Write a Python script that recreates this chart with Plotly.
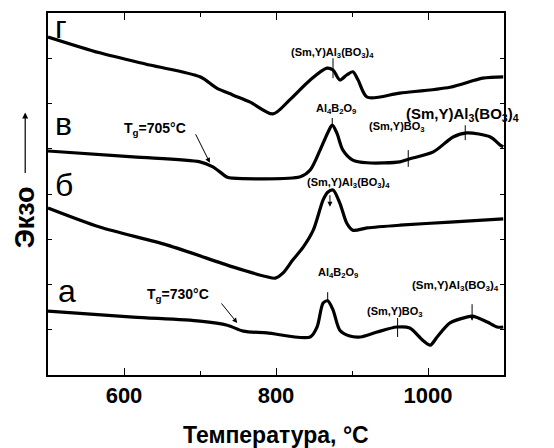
import plotly.graph_objects as go

# DTA curves (temperature in °C, signal in arbitrary stacked units)
t_g = [500, 568, 634, 700, 722, 743, 766, 796, 818, 845, 867, 875, 884, 893, 901, 908, 920, 963, 1029, 1072, 1099]
y_g = [7.47, 7.12, 6.85, 6.59, 6.34, 6.19, 6.03, 5.77, 6.08, 6.52, 6.78, 6.74, 6.52, 6.63, 6.70, 6.52, 6.14, 6.23, 6.36, 6.56, 6.59]

t_v = [500, 612, 700, 717, 736, 743, 832, 845, 858, 868, 874, 880, 888, 901, 920, 963, 974, 1007, 1033, 1051, 1082, 1095, 1099]
y_v = [4.95, 4.82, 4.71, 4.60, 4.37, 4.35, 4.38, 4.53, 4.97, 5.35, 5.52, 5.35, 4.97, 4.75, 4.69, 4.71, 4.77, 4.93, 5.26, 5.35, 5.26, 5.08, 5.04]

t_b = [500, 568, 657, 743, 788, 799, 809, 822, 836, 849, 862, 868, 875, 884, 893, 901, 920, 963, 1029, 1099]
y_b = [3.69, 3.27, 2.87, 2.39, 2.17, 2.14, 2.25, 2.54, 2.83, 3.20, 3.87, 4.04, 4.09, 3.80, 3.36, 3.20, 3.25, 3.31, 3.38, 3.45]

t_a = [500, 612, 700, 736, 757, 788, 845, 854, 862, 868, 875, 884, 897, 911, 933, 959, 976, 993, 1003, 1012, 1029, 1051, 1059, 1078, 1091, 1099]
y_a = [1.41, 1.28, 1.19, 1.10, 0.97, 0.93, 0.84, 1.06, 1.59, 1.64, 1.44, 0.99, 0.86, 0.84, 0.95, 1.06, 1.04, 0.77, 0.66, 0.84, 1.15, 1.28, 1.30, 1.17, 1.06, 1.06]

curves = [(t_g, y_g), (t_v, y_v), (t_b, y_b), (t_a, y_a)]

x_ticks = [600, 800, 1000]
x_minor = [700, 900]

FONT = "Liberation Sans, Arial, sans-serif"

fig = go.Figure()
for t, y in curves:
    fig.add_trace(go.Scatter(x=t, y=y, mode="lines",
                             line=dict(color="black", width=3.2, shape="spline", smoothing=0.8),
                             showlegend=False, hoverinfo="skip"))

# curve letters
for txt, t, y in [("г", 507, 7.7), ("в", 507, 5.55), ("б", 507, 4.2), ("а", 510, 1.85)]:
    fig.add_annotation(x=t, y=y, text=txt, showarrow=False, xanchor="left", yanchor="middle",
                       font=dict(family=FONT, size=32, color="black"))

# phase labels (text, x, y, size)
labels = [
    ("(Sm,Y)Al<sub>3</sub>(BO<sub>3</sub>)<sub>4</sub>", 874, 7.12, 11),
    ("Al<sub>4</sub>B<sub>2</sub>O<sub>9</sub>", 879, 5.88, 11),
    ("(Sm,Y)BO<sub>3</sub>", 959, 5.47, 11),
    ("(Sm,Y)Al<sub>3</sub>(BO<sub>3</sub>)<sub>4</sub>", 1045, 5.75, 15),
    ("(Sm,Y)Al<sub>3</sub>(BO<sub>3</sub>)<sub>4</sub>", 895, 4.24, 11),
    ("Al<sub>4</sub>B<sub>2</sub>O<sub>9</sub>", 882, 2.25, 11),
    ("(Sm,Y)BO<sub>3</sub>", 957, 1.39, 11),
    ("(Sm,Y)Al<sub>3</sub>(BO<sub>3</sub>)<sub>4</sub>", 1036, 1.97, 11.5),
    ("T<sub>g</sub>=705°C", 641, 5.43, 14),
    ("T<sub>g</sub>=730°C", 671, 1.77, 14),
]
for txt, t, y, s in labels:
    fig.add_annotation(x=t, y=y, text=txt, showarrow=False, xanchor="center", yanchor="middle",
                       font=dict(family=FONT, size=s, color="black", weight="bold"))

# short marker lines at the crystallization peaks (temperature, y0, y1)
marks = [(875, 6.56, 7.0), (874, 5.52, 5.68), (974, 4.6, 4.97), (1049, 5.19, 5.52),
         (868, 1.61, 1.83), (960, 0.84, 1.26)]
for t, y0, y1 in marks:
    fig.add_shape(type="line", x0=t, x1=t, y0=y0, y1=y1, line=dict(color="black", width=1))

# arrows (tip temperature, tip y, tail offset px)
arrows = [(871, 3.72, 0, -13), (1058, 1.2, 0, -18), (713, 4.69, -15, -30), (749, 1.15, -17, -21)]
for t, y, ax, ay in arrows:
    fig.add_annotation(x=t, y=y, ax=ax, ay=ay, text="", showarrow=True, arrowhead=2,
                       arrowsize=1, arrowwidth=1, arrowcolor="black")

# "Экзо" title with its direction arrow, in paper coordinates
fig.add_annotation(xref="paper", yref="paper", x=-0.05, y=0.725, ax=0, ay=62,
                   text="", showarrow=True, arrowhead=2, arrowsize=1, arrowwidth=1.2, arrowcolor="black")
fig.add_annotation(xref="paper", yref="paper", x=-0.05, y=0.436, text="Экзо", textangle=-90,
                   showarrow=False, xanchor="center", yanchor="middle",
                   font=dict(family=FONT, size=27, color="black", weight="bold"))
fig.add_annotation(xref="paper", yref="paper", x=0.5, y=-0.166, text="Температура, °C",
                   showarrow=False, xanchor="center", yanchor="middle",
                   font=dict(family=FONT, size=23, color="black", weight="bold"))

axis_common = dict(showgrid=False, zeroline=False, showline=True, linecolor="black", linewidth=1.5,
                   mirror="allticks", ticks="inside", tickcolor="black")
fig.update_xaxes(range=[500, 1100], tickvals=x_ticks, ticklen=7, tickwidth=1,
                 tickfont=dict(family=FONT, size=22, color="black", weight="bold"),
                 minor=dict(tickvals=x_minor, ticks="inside", ticklen=4, tickcolor="black"),
                 **axis_common)
fig.update_yaxes(range=[0, 8], tickvals=list(range(1, 8)), ticklen=4, showticklabels=False,
                 **axis_common)

fig.update_layout(width=554, height=448, margin=dict(l=48, r=50, t=13, b=73),
                  paper_bgcolor="white", plot_bgcolor="white")

fig.write_html("out.html")
